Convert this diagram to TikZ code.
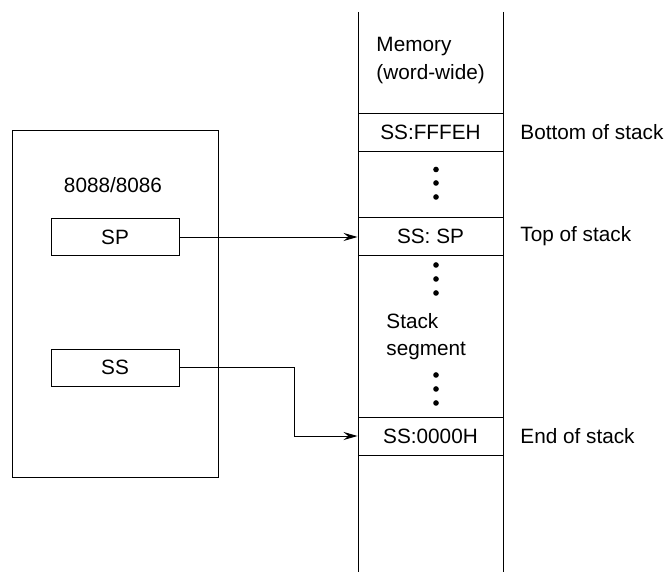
\documentclass[tikz,border=0pt]{standalone}
\usepackage{fontspec}
\setmainfont{Liberation Sans}
\usepackage{tikz}
\usetikzlibrary{arrows.meta,positioning}

\begin{document}
\begin{tikzpicture}[
  font=\fontsize{11.8}{15.4}\selectfont,
  >={Stealth[length=8pt,width=4.6pt,inset=2.8pt]},
  line width=0.55pt,
  reg/.style={draw, minimum width=2.56cm, minimum height=0.74cm, inner sep=0pt},
  cell/.style={draw, minimum width=2.9cm, minimum height=0.76cm, inner sep=0pt},
  lbl/.style={anchor=west, inner sep=0pt},
  vdot/.style={circle, fill, inner sep=0pt, minimum size=3.2pt}
]
\useasboundingbox (0,0) rectangle (13.34,11.44);

% processor
\node[draw, minimum width=4.12cm, minimum height=6.94cm] (cpu) at (2.30,5.37) {};
\node (chip) at (2.26,7.74) {8088/8086};
\node[reg] (sp) at (2.30,6.70) {SP};
\node[reg] (ss) at (2.30,4.09) {SS};

% memory column
\draw (7.16,11.20) -- (7.16,0);
\draw (10.06,11.20) -- (10.06,0);
\node[lbl, align=left] (memtext) at (7.52,10.23) {Memory\\(word-wide)};
\node[cell] (bottom) at (8.61,8.79) {SS:FFFEH};
\node[cell] (top) at (8.61,6.72) {SS: SP};
\node[cell] (endrow) at (8.61,2.72) {SS:0000H};
\node[lbl, align=left] (segment) at (7.72,4.71) {Stack\\segment};

\foreach \y in {8.05,7.78,7.50, 6.14,5.86,5.58, 3.94,3.66,3.38}
  \node[vdot] at (8.72,\y) {};

\node[lbl] (bottomlbl) at (10.40,8.79) {Bottom of stack};
\node[lbl] (toplbl) at (10.40,6.72) {Top of stack};
\node[lbl] (endlbl) at (10.40,2.72) {End of stack};

% pointers
\draw[->] (sp.east) -- (sp.east -| top.west);
\coordinate (bend) at (5.88,4.09);
\draw[->] (ss.east) -- (bend) |- (endrow.west);
\end{tikzpicture}
\end{document}
